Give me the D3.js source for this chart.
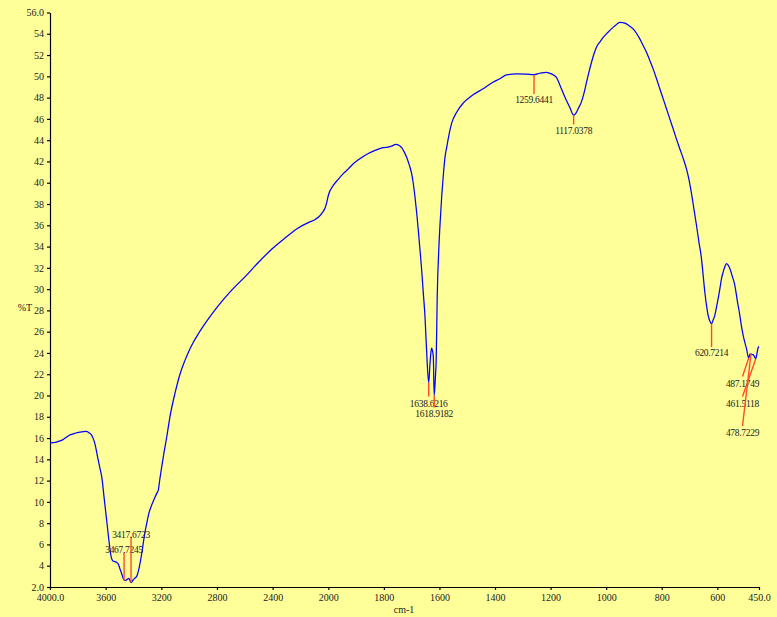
<!DOCTYPE html>
<html>
<head>
<meta charset="utf-8">
<script src="https://cdn.jsdelivr.net/npm/d3@7"></script>
<style>
  html, body { margin: 0; padding: 0; background: #ffff99; }
  svg { display: block; }
  text { font-family: "Liberation Serif", "Times New Roman", serif; }
</style>
</head>
<body>
<script>
// IR transmittance spectrum (wavenumber in cm-1, transmittance in %T)
const wavenumber = [
  4000, 3960, 3928, 3907, 3880, 3856, 3820, 3784, 3760, 3741, 3720, 3700, 3688, 3677, 3665,
  3653, 3640, 3628, 3612, 3593, 3574, 3560, 3548, 3533, 3520, 3509, 3497, 3485, 3475,
  3467.7245, 3455, 3445, 3435, 3428, 3417.6723, 3400, 3388, 3377, 3365, 3353, 3340, 3330,
  3318, 3305, 3290, 3269, 3250, 3233, 3222, 3210, 3197, 3180, 3161, 3138, 3102,
  3066, 3030, 3006, 2970, 2934, 2862, 2790, 2694, 2599,
  2503, 2407, 2311, 2216, 2144, 2100, 2072, 2045, 2024, 2012, 2000,
  1982, 1965, 1946, 1928, 1910, 1892, 1874, 1856, 1838, 1820, 1802, 1785, 1772, 1757, 1745,
  1736, 1727, 1718, 1709, 1700, 1694, 1688, 1682, 1676, 1670, 1664, 1658, 1652, 1648, 1644,
  1638.6216, 1634, 1631, 1628, 1625, 1622, 1618.9182, 1614, 1612, 1608, 1602, 1597, 1592,
  1586, 1580, 1574, 1568, 1556, 1538, 1514, 1479, 1443, 1407, 1383, 1359, 1323, 1287,
  1259.6441, 1239, 1215, 1197, 1179, 1170, 1161, 1143, 1131, 1117.0378, 1110, 1100, 1089,
  1080, 1071, 1062, 1053, 1044, 1035, 1022, 1010, 995, 981, 966, 951, 940, 927, 915, 903,
  891, 879, 867, 855, 843, 831, 819, 807, 795, 783, 771, 759, 747, 735, 723, 711, 702, 693,
  684, 675, 666, 657, 651, 645, 639, 633, 627, 620.7214, 615, 609, 603, 597, 591, 585, 579,
  573, 567, 561, 555, 546, 537, 528, 519, 513, 507, 501, 495, 487.1749, 483, 478.7229, 474,
  469, 461.5118, 457, 454, 450
];
const transmittance = [
  15.55, 15.6, 15.74, 15.85, 16.1, 16.3, 16.45, 16.55, 16.6, 16.62, 16.5, 16.25, 15.9, 15.45, 14.7,
  13.9, 13.1, 12.35, 10.5, 8.3, 6.1, 4.8, 4.45, 4.38, 4.3, 4.15, 3.7, 3.25, 2.85,
  2.66, 2.62, 2.72, 2.8, 2.7, 2.42, 2.7, 2.85, 3.0, 3.5, 4.23, 5.2, 6.1,
  7.1, 7.98, 8.9, 9.7, 10.3, 10.8, 11.1, 12.2, 13.3, 14.7, 16.1, 18.0, 20.2,
  22.0, 23.3, 24.05, 25.0, 25.8, 27.2, 28.45, 29.9, 31.15,
  32.5, 33.75, 34.8, 35.75, 36.25, 36.5, 36.75, 37.15, 37.6, 38.1, 38.8,
  39.75, 40.3, 40.85, 41.3, 41.78, 42.15, 42.47, 42.75, 42.97, 43.15, 43.29, 43.35, 43.44, 43.6, 43.5,
  43.29, 42.9, 42.4, 41.7, 40.85, 39.9, 38.65, 37.2, 35.5, 33.7, 31.8, 29.6, 27.4, 25.2, 23.0,
  21.2, 23.0, 24.0, 24.45, 24.2, 23.6, 20.0, 22.0, 23.0, 29.3, 33.95, 36.5, 38.65,
  40.7, 42.4, 43.3, 44.2, 45.6, 46.63, 47.5, 48.26, 48.83, 49.45, 49.77, 50.14, 50.23, 50.2,
  50.15, 50.29, 50.38, 50.23, 49.9, 49.4, 48.83, 47.73, 47.1, 46.35, 46.5, 47.0, 47.6,
  48.4, 49.4, 50.4, 51.3, 52.1, 52.74, 53.25, 53.68, 54.1, 54.46, 54.8, 55.08, 55.05, 54.93, 54.7, 54.46,
  54.05, 53.52, 52.9, 52.27, 51.5, 50.7, 49.8, 48.83, 47.9, 46.95, 46.0, 45.07, 44.1, 43.19, 42.3, 41.3, 40.3, 39.0,
  37.5, 36.0, 34.4, 32.86, 31.3, 29.73, 28.5, 27.54, 27.0, 26.75, 27.1, 27.54, 28.3, 29.11, 30.0, 30.99, 31.6,
  32.1, 32.4, 32.25, 31.93, 31.2, 30.36, 28.9, 27.54, 26.5, 25.66, 25.0, 24.41, 23.5, 23.9, 23.9, 23.85,
  23.78, 23.45, 24.0, 24.4, 24.6
];

// Picked peaks
const peakWavenumbers = [3467.7245, 3417.6723, 1638.6216, 1618.9182, 1259.6441, 1117.0378,
                         620.7214, 487.1749, 461.5118, 478.7229];
const peakLabels = ["3467.7245", "3417.6723", "1638.6216", "1618.9182", "1259.6441", "1117.0378",
                    "620.7214", "487.1749", "461.5118", "478.7229"];

// Axis ticks
const xTicks = [4000, 3600, 3200, 2800, 2400, 2000, 1800, 1600, 1400, 1200, 1000, 800, 600, 450];
const xTickLabels = ["4000.0", "3600", "3200", "2800", "2400", "2000", "1800", "1600", "1400",
                     "1200", "1000", "800", "600", "450.0"];
const yTicks = [2, 4, 6, 8, 10, 12, 14, 16, 18, 20, 22, 24, 26, 28, 30, 32, 34, 36, 38, 40,
                42, 44, 46, 48, 50, 52, 54, 56];
const yTickLabels = yTicks.map(v => (v === 2 || v === 56) ? v.toFixed(1) : String(v));

// Where each peak marker ends and where its label sits (pixels)
const peakLayout = [
  { endY: 552.5, textX: null, textY: 553 },
  { endY: 536.5, textX: null, textY: 538 },
  { endY: 396.5, textX: null, textY: 406.5 },
  { endY: 407.5, textX: null, textY: 416.5 },
  { endY: 94,    textX: null, textY: 102.5 },
  { endY: 124.5, textX: null, textY: 133.5 },
  { endY: 347,   textX: null, textY: 355.5 },
  { endY: 376.5, textX: 742.5, textY: 386.5 },
  { endY: 396.5, textX: 742.5, textY: 406.5 },
  { endY: 426,   textX: 742.5, textY: 435.5 }
];

const W = 777, H = 617;
const svg = d3.select("body").append("svg").attr("width", W).attr("height", H);
svg.append("rect").attr("width", W).attr("height", H).attr("fill", "#ffff99");

// Wavenumber axis changes scale at 2000 cm-1
const x = d3.scaleLinear().domain([4000, 2000, 450]).range([50, 328.3, 759]);
const y = d3.scaleLinear().domain([2, 56]).range([587, 12.5]);

const xAxis = d3.axisBottom(x).tickValues(xTicks)
  .tickFormat((d, i) => xTickLabels[i]).tickSizeInner(3).tickSizeOuter(0).tickPadding(4);
const yAxis = d3.axisLeft(y).tickValues(yTicks)
  .tickFormat((d, i) => yTickLabels[i]).tickSizeInner(3).tickSizeOuter(0).tickPadding(3);

const gx = svg.append("g").attr("transform", `translate(0,${y(2)})`).call(xAxis);
const gy = svg.append("g").attr("transform", `translate(${x(4000)},0)`).call(yAxis);
[gx, gy].forEach(g => {
  g.selectAll("path, line").attr("stroke", "#000").attr("stroke-width", 1.2);
  g.selectAll("text").attr("fill", "#222").attr("font-size", 10)
    .attr("font-family", "'Liberation Serif', serif");
});

// Axis titles
svg.append("text").attr("x", 25).attr("y", 311).attr("text-anchor", "middle")
  .attr("font-size", 10).attr("fill", "#222").text("%T");
svg.append("text").attr("x", 404).attr("y", 613).attr("text-anchor", "middle")
  .attr("font-size", 10).attr("fill", "#222").text("cm-1");

// Spectrum
const pts = wavenumber.map((w, i) => [w, transmittance[i]]);
const line = d3.line().x(d => x(d[0])).y(d => y(d[1])).curve(d3.curveMonotoneX);
svg.append("path").datum(pts).attr("d", line)
  .attr("fill", "none").attr("stroke", "#0000ff").attr("stroke-width", 1.25)
  .attr("stroke-linejoin", "round");

// Peak markers and labels
const tAt = w => transmittance[wavenumber.indexOf(w)];
peakWavenumbers.forEach((w, i) => {
  const L = peakLayout[i];
  const px = x(w), py = y(tAt(w));
  const ex = L.textX === null ? px : L.textX;
  svg.append("line").attr("x1", px).attr("y1", py).attr("x2", ex).attr("y2", L.endY)
    .attr("stroke", "#ff4a2a").attr("stroke-width", 1.4);
  svg.append("text").attr("x", ex).attr("y", L.textY).attr("text-anchor", "middle")
    .attr("font-size", 9.5).attr("fill", "#222").attr("letter-spacing", -0.3)
    .text(peakLabels[i]);
});
</script>
</body>
</html>
